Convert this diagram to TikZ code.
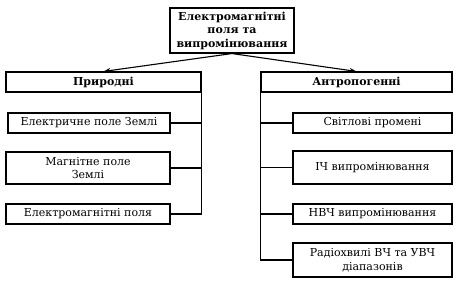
\documentclass[tikz,border=0pt]{standalone}
\usepackage{fontspec}
\setmainfont{DejaVu Serif}
\usetikzlibrary{arrows.meta}
\begin{document}
\begin{tikzpicture}[x=1pt,y=-1pt,
  box/.style={draw,line width=1.1pt,inner sep=0pt,align=center,font=\fontsize{11}{13.5}\selectfont},
  hdr/.style={box,font=\fontsize{11}{13.5}\selectfont\bfseries},
  ln/.style={line width=1.1pt},
  arr/.style={line width=1.1pt,-{Stealth[length=7pt,width=5pt]}}]
\useasboundingbox (0,0) rectangle (459,289);
\node[hdr,minimum width=124pt,minimum height=45pt] (top) at (232,30.5) {Електромагнітні\\поля та\\випромінювання};
\node[hdr,minimum width=195pt,minimum height=20pt] (nat) at (103.5,82) {Природні};
\node[hdr,minimum width=191pt,minimum height=20pt] (ant) at (356.5,82) {Антропогенні};
% left items
\node[box,minimum width=162pt,minimum height=20pt] (l1) at (89,123) {Електричне поле Землі};
\node[box,minimum width=164pt,minimum height=32pt] (l2) at (88,168) {Магнітне поле\\Землі};
\node[box,minimum width=164pt,minimum height=20pt] (l3) at (88,214) {Електромагнітні поля};
% right items
\node[box,minimum width=159pt,minimum height=20pt] (r1) at (372.5,123) {Світлові промені};
\node[box,minimum width=159pt,minimum height=33pt] (r2) at (372.5,167.5) {ІЧ випромінювання};
\node[box,minimum width=159pt,minimum height=20pt] (r3) at (372.5,214) {НВЧ випромінювання};
\node[box,minimum width=159pt,minimum height=34pt] (r4) at (372.5,260) {Радіохвилі ВЧ та УВЧ\\діапазонів};
% arrows
\draw[arr] (top.south) -- (nat.north);
\draw[arr] (top.south) -- (ant.north);
% left spine
\coordinate (lsp) at (nat.south east);
\draw[ln] (lsp) -- (lsp |- l3.east) -- (l3.east);
\draw[ln] (l1.east) -- (l1.east -| lsp);
\draw[ln] (l2.east) -- (l2.east -| lsp);
% right spine
\coordinate (rsp) at (ant.south west);
\draw[ln] (rsp) -- (rsp |- r4.west) -- (r4.west);
\draw[ln] (r1.west) -- (r1.west -| rsp);
\draw[ln] (r2.west) -- (r2.west -| rsp);
\draw[ln] (r3.west) -- (r3.west -| rsp);
\end{tikzpicture}
\end{document}
